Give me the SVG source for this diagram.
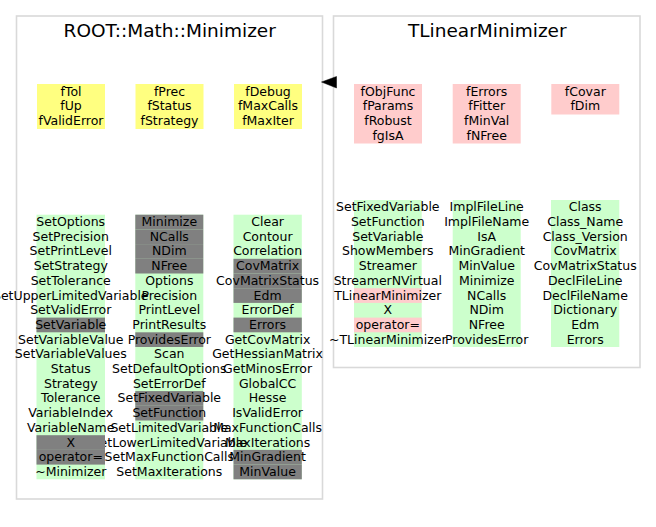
<svg xmlns="http://www.w3.org/2000/svg" width="656" height="527" viewBox="0 0 656 527">
<style>
.panel{fill:#fff;stroke:#d9d9d9;stroke-width:1.6}
.title{font-family:"DejaVu Sans",sans-serif;font-size:18.5px;text-anchor:middle;fill:#000}
.t{font-family:"DejaVu Sans",sans-serif;font-size:12.5px;text-anchor:middle;fill:#000}
.y{fill:#ffff80}
.p{fill:#ffcccc}
.g{fill:#ccffcc}
.k{fill:#808080}
</style>
<rect width="656" height="527" fill="#fff"/>
<g id="cluster_ROOT_Math_Minimizer">
<rect class="panel" x="16.5" y="16" width="306" height="483"/>
<text class="title" x="169.7" y="36.7">ROOT::Math::Minimizer</text>
</g>
<g id="cluster_TLinearMinimizer">
<rect class="panel" x="333.5" y="16" width="306.5" height="351.5"/>
<text class="title" x="487.3" y="36.7">TLinearMinimizer</text>
</g>
<g id="Minimizer_fields">
<rect class="y" x="37" y="84" width="68" height="45"/>
<rect class="y" x="135.5" y="84" width="68" height="45"/>
<rect class="y" x="234" y="84" width="68" height="45"/>
<text class="t" x="71" y="95.7">fTol</text>
<text class="t" x="71" y="110.4">fUp</text>
<text class="t" x="71" y="125.1">fValidError</text>
<text class="t" x="169.5" y="95.7">fPrec</text>
<text class="t" x="169.5" y="110.4">fStatus</text>
<text class="t" x="169.5" y="125.1">fStrategy</text>
<text class="t" x="268" y="95.7">fDebug</text>
<text class="t" x="268" y="110.4">fMaxCalls</text>
<text class="t" x="268" y="125.1">fMaxIter</text>
</g>
<g id="TLinearMinimizer_fields">
<rect class="p" x="354" y="84" width="68" height="59.5"/>
<rect class="p" x="452.7" y="84" width="68" height="59.5"/>
<rect class="p" x="551.3" y="84" width="68" height="30.5"/>
<text class="t" x="388" y="95.7">fObjFunc</text>
<text class="t" x="388" y="110.4">fParams</text>
<text class="t" x="388" y="125.1">fRobust</text>
<text class="t" x="388" y="139.8">fgIsA</text>
<text class="t" x="486.7" y="95.7">fErrors</text>
<text class="t" x="486.7" y="110.4">fFitter</text>
<text class="t" x="486.7" y="125.1">fMinVal</text>
<text class="t" x="486.7" y="139.8">fNFree</text>
<text class="t" x="585.3" y="95.7">fCovar</text>
<text class="t" x="585.3" y="110.4">fDim</text>
</g>
<g id="Minimizer_methods">
<g class="bg">
<rect class="g" x="36.5" y="214.7" width="68.5" height="264.6"/>
<rect class="g" x="135.3" y="214.7" width="68" height="264.6"/>
<rect class="g" x="233.5" y="214.7" width="68.3" height="264.6"/>
</g>
<g class="txt">
<text class="t" x="70.75" y="226">SetOptions</text>
<text class="t" x="70.75" y="240.7">SetPrecision</text>
<text class="t" x="70.75" y="255.4">SetPrintLevel</text>
<text class="t" x="70.75" y="270.1">SetStrategy</text>
<text class="t" x="70.75" y="284.8">SetTolerance</text>
<text class="t" x="70.75" y="299.5">SetUpperLimitedVariable</text>
<text class="t" x="70.75" y="314.2">SetValidError</text>
<text class="t" x="70.75" y="343.6">SetVariableValue</text>
<text class="t" x="70.75" y="358.3">SetVariableValues</text>
<text class="t" x="70.75" y="373">Status</text>
<text class="t" x="70.75" y="387.7">Strategy</text>
<text class="t" x="70.75" y="402.4">Tolerance</text>
<text class="t" x="70.75" y="417.1">VariableIndex</text>
<text class="t" x="70.75" y="431.8">VariableName</text>
<text class="t" x="70.75" y="475.9">~Minimizer</text>
<text class="t" x="169.3" y="284.8">Options</text>
<text class="t" x="169.3" y="299.5">Precision</text>
<text class="t" x="169.3" y="314.2">PrintLevel</text>
<text class="t" x="169.3" y="328.9">PrintResults</text>
<text class="t" x="169.3" y="358.3">Scan</text>
<text class="t" x="169.3" y="373">SetDefaultOptions</text>
<text class="t" x="169.3" y="387.7">SetErrorDef</text>
<text class="t" x="169.3" y="431.8">SetLimitedVariable</text>
<text class="t" x="169.3" y="446.5">SetLowerLimitedVariable</text>
<text class="t" x="169.3" y="461.2">SetMaxFunctionCalls</text>
<text class="t" x="169.3" y="475.9">SetMaxIterations</text>
<text class="t" x="267.6" y="226">Clear</text>
<text class="t" x="267.6" y="240.7">Contour</text>
<text class="t" x="267.6" y="255.4">Correlation</text>
<text class="t" x="267.6" y="314.2">ErrorDef</text>
<text class="t" x="267.6" y="343.6">GetCovMatrix</text>
<text class="t" x="267.6" y="358.3">GetHessianMatrix</text>
<text class="t" x="267.6" y="373">GetMinosError</text>
<text class="t" x="267.6" y="387.7">GlobalCC</text>
<text class="t" x="267.6" y="402.4">Hesse</text>
<text class="t" x="267.6" y="417.1">IsValidError</text>
<text class="t" x="267.6" y="431.8">MaxFunctionCalls</text>
<text class="t" x="267.6" y="446.5">MaxIterations</text>
</g>
<g class="hl">
<rect class="k" x="36.5" y="317.6" width="68.5" height="14.7"/>
<rect class="k" x="36.5" y="435.2" width="68.5" height="14.7"/>
<rect class="k" x="36.5" y="449.9" width="68.5" height="14.7"/>
<rect class="k" x="135.3" y="214.7" width="68" height="14.7"/>
<rect class="k" x="135.3" y="229.4" width="68" height="14.7"/>
<rect class="k" x="135.3" y="244.1" width="68" height="14.7"/>
<rect class="k" x="135.3" y="258.8" width="68" height="14.7"/>
<rect class="k" x="135.3" y="332.3" width="68" height="14.7"/>
<rect class="k" x="135.3" y="391.1" width="68" height="14.7"/>
<rect class="k" x="135.3" y="405.8" width="68" height="14.7"/>
<rect class="k" x="233.5" y="258.8" width="68.3" height="14.7"/>
<rect class="k" x="233.5" y="273.5" width="68.3" height="14.7"/>
<rect class="k" x="233.5" y="288.2" width="68.3" height="14.7"/>
<rect class="k" x="233.5" y="317.6" width="68.3" height="14.7"/>
<rect class="k" x="233.5" y="449.9" width="68.3" height="14.7"/>
<rect class="k" x="233.5" y="464.6" width="68.3" height="14.7"/>
<text class="t" x="70.75" y="328.9">SetVariable</text>
<text class="t" x="70.75" y="446.5">X</text>
<text class="t" x="70.75" y="461.2">operator=</text>
<text class="t" x="169.3" y="226">Minimize</text>
<text class="t" x="169.3" y="240.7">NCalls</text>
<text class="t" x="169.3" y="255.4">NDim</text>
<text class="t" x="169.3" y="270.1">NFree</text>
<text class="t" x="169.3" y="343.6">ProvidesError</text>
<text class="t" x="169.3" y="402.4">SetFixedVariable</text>
<text class="t" x="169.3" y="417.1">SetFunction</text>
<text class="t" x="267.6" y="270.1">CovMatrix</text>
<text class="t" x="267.6" y="284.8">CovMatrixStatus</text>
<text class="t" x="267.6" y="299.5">Edm</text>
<text class="t" x="267.6" y="328.9">Errors</text>
<text class="t" x="267.6" y="461.2">MinGradient</text>
<text class="t" x="267.6" y="475.9">MinValue</text>
</g>
</g>
<g id="TLinearMinimizer_methods">
<rect class="g" x="354" y="200" width="67.7" height="147"/>
<rect class="g" x="452.7" y="200" width="68" height="147"/>
<rect class="g" x="551" y="200" width="68.3" height="147"/>
<rect class="p" x="354" y="288.2" width="67.7" height="14.7"/>
<rect class="p" x="354" y="317.6" width="67.7" height="14.7"/>
<text class="t" x="387.8" y="211.3">SetFixedVariable</text>
<text class="t" x="387.8" y="226">SetFunction</text>
<text class="t" x="387.8" y="240.7">SetVariable</text>
<text class="t" x="387.8" y="255.4">ShowMembers</text>
<text class="t" x="387.8" y="270.1">Streamer</text>
<text class="t" x="387.8" y="284.8">StreamerNVirtual</text>
<text class="t" x="387.8" y="299.5">TLinearMinimizer</text>
<text class="t" x="387.8" y="314.2">X</text>
<text class="t" x="387.8" y="328.9">operator=</text>
<text class="t" x="387.8" y="343.6">~TLinearMinimizer</text>
<text class="t" x="486.7" y="211.3">ImplFileLine</text>
<text class="t" x="486.7" y="226">ImplFileName</text>
<text class="t" x="486.7" y="240.7">IsA</text>
<text class="t" x="486.7" y="255.4">MinGradient</text>
<text class="t" x="486.7" y="270.1">MinValue</text>
<text class="t" x="486.7" y="284.8">Minimize</text>
<text class="t" x="486.7" y="299.5">NCalls</text>
<text class="t" x="486.7" y="314.2">NDim</text>
<text class="t" x="486.7" y="328.9">NFree</text>
<text class="t" x="486.7" y="343.6">ProvidesError</text>
<text class="t" x="585.2" y="211.3">Class</text>
<text class="t" x="585.2" y="226">Class_Name</text>
<text class="t" x="585.2" y="240.7">Class_Version</text>
<text class="t" x="585.2" y="255.4">CovMatrix</text>
<text class="t" x="585.2" y="270.1">CovMatrixStatus</text>
<text class="t" x="585.2" y="284.8">DeclFileLine</text>
<text class="t" x="585.2" y="299.5">DeclFileName</text>
<text class="t" x="585.2" y="314.2">Dictionary</text>
<text class="t" x="585.2" y="328.9">Edm</text>
<text class="t" x="585.2" y="343.6">Errors</text>
</g>
<g id="connectors">
<polygon points="321.5,82 336.5,76.5 336.5,88" fill="#000" stroke="#000" stroke-width="0.5"/>
</g>
</svg>
